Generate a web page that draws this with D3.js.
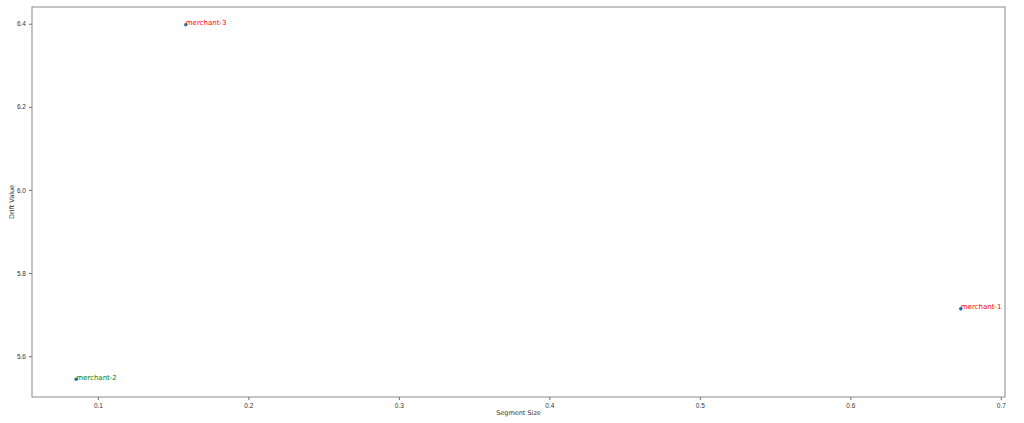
<!DOCTYPE html>
<html>
<head>
<meta charset="utf-8">
<script src="https://cdn.jsdelivr.net/npm/d3@7"></script>
<style>
  html, body { margin: 0; padding: 0; background: #fff; }
  svg { display: block; font-family: "DejaVu Sans", sans-serif; }
</style>
</head>
<body>
<svg id="chart" width="1024" height="423"></svg>
<script>
// ---- data ----
const merchants = ["merchant-1", "merchant-2", "merchant-3"];
const segmentSize = [0.6734, 0.0856, 0.1584];
const driftValue = [5.714, 5.5445, 6.3976];
const labelColors = ["red", "green", "red"];
const xTicks = [0.1, 0.2, 0.3, 0.4, 0.5, 0.6, 0.7];
const yTicks = [5.6, 5.8, 6.0, 6.2, 6.4];

// ---- layout ----
const W = 1024, H = 423;
const m = { left: 32, right: 19, top: 7, bottom: 26 };
const svg = d3.select("#chart");

function padded(vals) {
  const lo = d3.min(vals), hi = d3.max(vals), s = hi - lo;
  return [lo - 0.05 * s, hi + 0.05 * s];
}

const x = d3.scaleLinear().domain(padded(segmentSize)).range([m.left, W - m.right]);
const y = d3.scaleLinear().domain(padded(driftValue)).range([H - m.bottom, m.top]);

const frameColor = "#8a8a8a";
const tickColor = "#444";

// axes
const xAxis = svg.append("g")
  .attr("transform", `translate(0,${H - m.bottom})`)
  .call(d3.axisBottom(x).tickValues(xTicks).tickFormat(d3.format(".1f")).tickSize(3).tickPadding(3));
const yAxis = svg.append("g")
  .attr("transform", `translate(${m.left},0)`)
  .call(d3.axisLeft(y).tickValues(yTicks).tickFormat(d3.format(".1f")).tickSize(3).tickPadding(3));

[xAxis, yAxis].forEach(a => {
  a.select(".domain").remove();
  a.selectAll(".tick line").attr("stroke", tickColor).attr("stroke-width", 0.8);
  a.selectAll(".tick text").attr("fill", "#333").style("font-size", "6.5px");
});

// frame
svg.append("rect")
  .attr("x", m.left).attr("y", m.top)
  .attr("width", W - m.left - m.right).attr("height", H - m.top - m.bottom)
  .attr("fill", "none").attr("stroke", frameColor).attr("stroke-width", 1);

// axis labels
svg.append("text")
  .attr("x", (m.left + W - m.right) / 2).attr("y", 415)
  .attr("text-anchor", "middle").style("font-size", "6.5px").attr("fill", "#333")
  .text("Segment Size");
svg.append("text")
  .attr("transform", `translate(14,${(m.top + H - m.bottom) / 2}) rotate(-90)`)
  .attr("text-anchor", "middle").style("font-size", "6.5px").attr("fill", "#333")
  .text("Drift Value");

// points
const data = merchants.map((n, i) => ({ n, x: segmentSize[i], y: driftValue[i], c: labelColors[i] }));
svg.append("g").selectAll("circle").data(data).join("circle")
  .attr("cx", d => x(d.x)).attr("cy", d => y(d.y)).attr("r", 1.8)
  .attr("fill", "#1f77b4");

svg.append("g").selectAll("text").data(data).join("text")
  .attr("x", d => x(d.x)).attr("y", d => y(d.y) + 0.5)
  .attr("fill", d => d.c).style("font-size", "7px")
  .text(d => d.n);
</script>
</body>
</html>
